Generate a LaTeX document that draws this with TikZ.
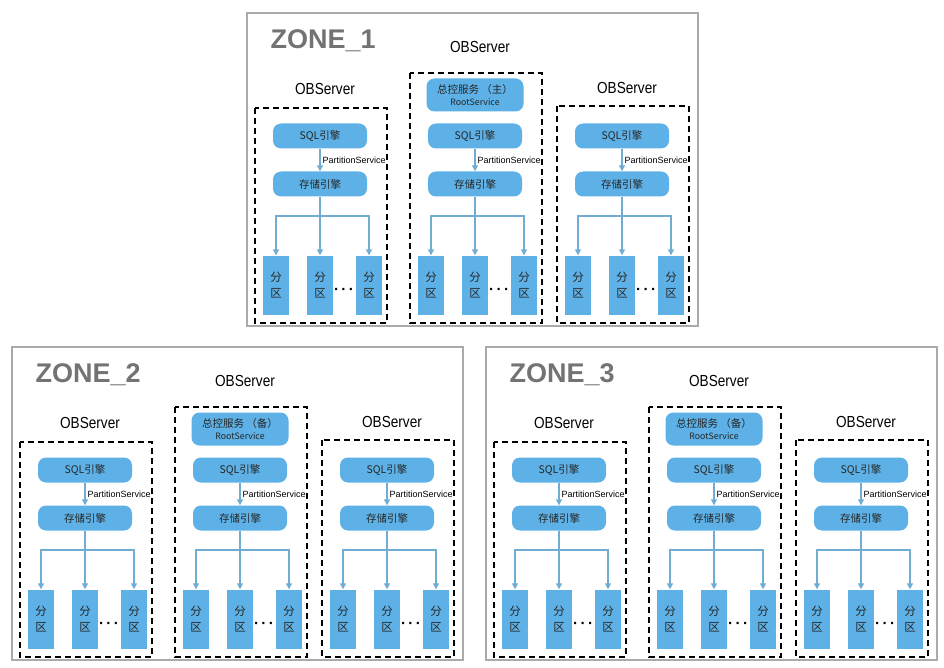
\documentclass[tikz,border=0pt]{standalone}
\usepackage{fontspec}
\setmainfont{Liberation Sans}
\newfontfamily\cjk{Noto Sans CJK SC}
\newfontfamily\narrow[FakeStretch=0.85]{Liberation Sans}
\usetikzlibrary{arrows.meta}
\definecolor{boxblue}{RGB}{93,177,230}
\definecolor{linkblue}{RGB}{112,172,212}
\definecolor{zonegray}{RGB}{170,170,170}
\tikzset{
  zoneline/.style={draw=zonegray, line width=1.5pt},
  zonetitle/.style={anchor=west, text=black!55, font=\bfseries\fontsize{27}{27}\selectfont},
  servername/.style={font=\narrow\fontsize{16}{16}\selectfont},
  serverbox/.style={draw=black, line width=2.6pt, dash pattern=on 6pt off 4pt},
  engine/.style={fill=boxblue, rounded corners=8pt, minimum width=94pt, minimum height=25pt, text=black!85, font=\cjk\fontsize{10.5}{12}\selectfont},
  rootbox/.style={engine, minimum width=97pt, minimum height=33pt, align=center},
  partbox/.style={fill=boxblue, minimum width=26pt, minimum height=59pt, align=center, text=black!85, font=\cjk\fontsize{11.5}{16}\selectfont},
  link/.style={draw=linkblue, line width=1.4pt, -{Triangle[width=6pt,length=6pt]}},
  psvc/.style={right, inner sep=2pt, font=\fontsize{9}{9}\selectfont},
  dotsep/.style={font=\bfseries\fontsize{15}{15}\selectfont},
}
\begin{document}
\begin{tikzpicture}[x=1pt, y=-1pt]
\useasboundingbox (0,0) rectangle (944,668);
\foreach \z/\ox/\oy/\rs in {1/247/13/主, 2/12/347/备, 3/486/347/备}{
  \begin{scope}[shift={(\ox,\oy)}]
    \draw[zoneline] (0,0) rectangle (451,313);
    \node[zonetitle] (zone\z) at (20,28) {ZONE\_\z};
    \foreach \s/\cx/\top/\lab in {1/73/95/76, 2/228/60/34, 3/375/93/75}{
      \draw[serverbox] (\cx-65,\top) rectangle (\cx+67,310);
      \node[servername] (name\z\s) at (\cx+5,\lab) {OBServer};
      \ifnum\s=2
        \node[rootbox] (root\z) at (\cx,82) {总控服务 （\rs）\\[0pt]{\fontsize{8.8}{9}\selectfont RootService}};
      \fi
      \node[engine] (sql\z\s) at (\cx,123) {SQL引擎};
      \node[engine] (store\z\s) at (\cx,171) {存储引擎};
      \draw[link] (sql\z\s) -- node[psvc] {PartitionService} (store\z\s);
      % partitions under the storage engine
      \foreach \p/\dx in {1/-44, 2/0, 3/49}
        \node[partbox] (part\z\s\p) at (\cx+\dx,272) {分\\区};
      \node[dotsep] (dots\z\s) at (\cx+24,278) {·\,·\,·};
      \coordinate (bar\z\s) at (\cx,203);
      \draw[link] (store\z\s) -- (part\z\s2);
      \draw[link] (bar\z\s) -| (part\z\s1);
      \draw[link] (bar\z\s) -| (part\z\s3);
    }
  \end{scope}
}
\end{tikzpicture}
\end{document}
